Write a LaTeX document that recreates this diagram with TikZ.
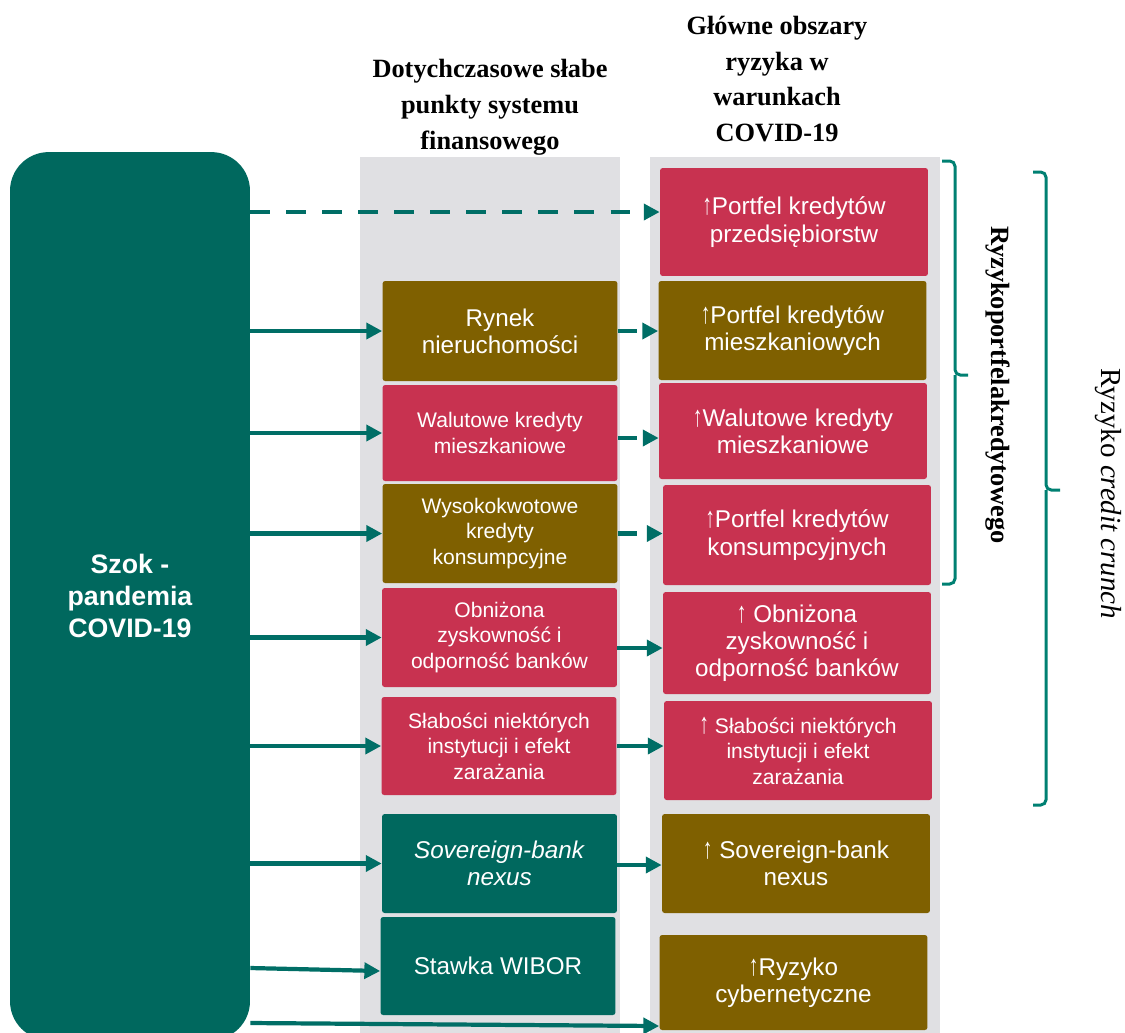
\documentclass[tikz,border=0pt]{standalone}
\usepackage{fontspec}
\usepackage{graphicx}
\setmainfont{Liberation Sans}
\newfontfamily\hdrfont{Liberation Serif}
\usetikzlibrary{arrows.meta}
\definecolor{shock}{RGB}{0,104,94}
\definecolor{brownbox}{RGB}{127,96,0}
\definecolor{redbox}{RGB}{200,50,80}
\definecolor{colbg}{RGB}{224,224,227}
\definecolor{linkc}{RGB}{0,110,102}
\definecolor{bracec}{RGB}{0,128,114}
\def\up{\scalebox{1}[1.5]{\fontsize{11}{11}\selectfont ↑}}
\tikzset{
  box/.style={rounded corners=1.5pt, text=white, align=center, inner sep=2pt,
    minimum width=4.7cm, minimum height=1.98cm},
  wide/.style={minimum width=5.36cm},
  txtsmall/.style={font=\fontsize{12}{14.5}\selectfont},
  txtlarge/.style={font=\fontsize{13.8}{15.5}\selectfont},
  link/.style={draw=linkc, line width=2.4pt, -{Triangle[length=9pt,width=9pt]}},
  dlink/.style={link, dash pattern=on 11pt off 9.5pt},
  brace/.style={draw=bracec, line width=1.7pt, rounded corners=3pt},
  head/.style={font=\hdrfont\bfseries\fontsize{15}{20.4}\selectfont, align=center},
}
\begin{document}
\begin{tikzpicture}[x=0.02cm, y=-0.02cm]
\useasboundingbox (0,0) rectangle (1125,1032);
\fill[colbg] (360,157) rectangle (620,1040);
\fill[colbg] (650,157) rectangle (940,1040);

\node[head] (h1) at (490,107) {Dotychczasowe słabe\\punkty systemu\\finansowego};
\node[head] (h2) at (777,79) {Główne obszary\\ryzyka w\\warunkach\\COVID-19};

\node[fill=shock, rounded corners=22pt, minimum width=4.8cm, minimum height=17.76cm,
  text=white, align=center, font=\bfseries\fontsize{15.2}{18.1}\selectfont] (covid) at (130,596) {Szok -\\pandemia\\COVID-19};

\node[box, txtlarge, fill=brownbox, minimum height=2cm] (m1) at (500,331) {Rynek\\nieruchomości};
\node[box, txtsmall, fill=redbox, minimum height=1.92cm] (m2) at (500,433) {Walutowe kredyty\\mieszkaniowe};
\node[box, txtsmall, fill=brownbox] (m3) at (500,533.5) {Wysokokwotowe\\kredyty\\konsumpcyjne};
\node[box, txtsmall, fill=redbox] (m4) at (499.5,637.5) {Obniżona\\zyskowność i\\odporność banków};
\node[box, txtsmall, fill=redbox, minimum height=1.96cm] (m5) at (499,746) {Słabości niektórych\\instytucji i efekt\\zarażania};
\node[box, txtlarge, fill=shock] (m6) at (499.5,863.5) {\textit{Sovereign-bank}\\\textit{nexus}};
\node[box, txtlarge, fill=shock, minimum height=1.96cm] (m7) at (498,966) {Stawka WIBOR};

\node[box, wide, txtlarge, fill=redbox, minimum height=2.16cm] (r1) at (794,222) {\up Portfel kredytów\\przedsiębiorstw};
\node[box, wide, txtlarge, fill=brownbox] (r2) at (792.5,330.5) {\up Portfel kredytów\\mieszkaniowych};
\node[box, wide, txtlarge, fill=redbox, minimum height=1.92cm] (r3) at (793,431) {\up Walutowe kredyty\\mieszkaniowe};
\node[box, wide, txtlarge, fill=redbox, minimum height=2cm] (r4) at (797,535) {\up Portfel kredytów\\konsumpcyjnych};
\node[box, wide, txtlarge, fill=redbox, minimum height=2.04cm] (r5) at (797,643) {\up\ Obniżona\\zyskowność i\\odporność banków};
\node[box, wide, txtsmall, fill=redbox] (r6) at (798,750.5) {\up\ Słabości niektórych\\instytucji i efekt\\zarażania};
\node[box, wide, txtlarge, fill=brownbox] (r7) at (796,863.5) {\up\ Sovereign-bank\\nexus};
\node[box, wide, txtlarge, fill=brownbox, minimum height=1.9cm] (r8) at (793.5,982.5) {\up Ryzyko\\cybernetyczne};

\draw[dlink] (covid.east |- 0,212) -- (r1.west |- 0,212);
\draw[link] (covid.east |- m1.west) -- (m1.west);
\draw[dlink] (m1.east) -- (r2.west |- m1.east);
\draw[link] (covid.east |- m2.west) -- (m2.west);
\draw[dlink] (m2.east |- 0,438) -- (r3.west |- 0,438);
\draw[link] (covid.east |- m3.west) -- (m3.west);
\draw[dlink] (m3.east) -- (r4.west |- m3.east);
\draw[link] (covid.east |- m4.west) -- (m4.west);
\draw[link] (m4.east |- 0,648) -- (r5.west |- 0,648);
\draw[link] (covid.east |- m5.west) -- (m5.west);
\draw[link] (m5.east) -- (r6.west |- m5.east);
\draw[link] (covid.east |- m6.west) -- (m6.west);
\draw[link] (m6.east |- 0,865) -- (r7.west |- 0,865);
\draw[link] (covid.east |- 0,968) -- (m7.west |- 0,971);
\draw[link] (covid.east |- 0,1023) -- (r8.west |- 0,1026);

\draw[brace] (942,161) -| (955,375) -- (968,375);
\draw[brace] (955,375) |- (942,584);
\draw[brace] (1033,172) -| (1046,490) -- (1060,490);
\draw[brace] (1046,490) |- (1033,805);

\node[rotate=-90, font=\hdrfont\bfseries\fontsize{15}{15}\selectfont] (lab1) at (998,385) {Ryzykoportfelakredytowego};
\node[rotate=-90, font=\hdrfont\fontsize{16.5}{16.5}\selectfont] (lab2) at (1108,494) {Ryzyko \textit{credit crunch}};
\end{tikzpicture}
\end{document}
